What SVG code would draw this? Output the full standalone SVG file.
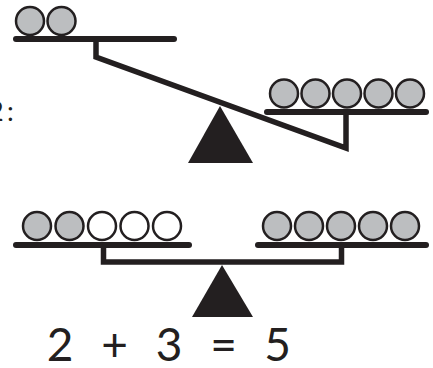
<svg xmlns="http://www.w3.org/2000/svg" width="433" height="368" viewBox="0 0 433 368">
<style>
.bar{stroke:#231f20;stroke-width:6;stroke-linecap:round;fill:none}
.beam{stroke:#231f20;stroke-width:5.5;fill:none;stroke-linejoin:miter;stroke-miterlimit:10}
.ball{fill:#bcbec0;stroke:#231f20;stroke-width:2.5}
.empty{fill:#ffffff;stroke:#231f20;stroke-width:2.5}
.fulcrum{fill:#231f20}
.t{font-family:"Lato","Liberation Sans",sans-serif;font-weight:400;fill:#231f20}
.eq{font-size:46px;text-anchor:middle}
</style>
<g id="label-left">
<text class="t" font-size="27" x="-12" y="121">2<tspan x="7">:</tspan></text>
</g>
<g id="connectors">
<polyline class="beam" points="96,39 96,57 346,148 346,112"/>
<polyline class="beam" points="103.5,245 103.5,262 341.5,262 341.5,245"/>
</g>
<g id="top-left-pan">
<line class="bar" x1="16" y1="39" x2="174" y2="39"/>
<circle class="ball" cx="30" cy="21" r="14"/>
<circle class="ball" cx="61.5" cy="21" r="14"/>
</g>
<g id="top-right-pan">
<line class="bar" x1="267" y1="112" x2="426" y2="112"/>
<circle class="ball" cx="284" cy="93.5" r="14"/>
<circle class="ball" cx="315.5" cy="93.5" r="14"/>
<circle class="ball" cx="347" cy="93.5" r="14"/>
<circle class="ball" cx="378.5" cy="93.5" r="14"/>
<circle class="ball" cx="410" cy="93.5" r="14"/>
</g>
<g id="top-fulcrum">
<polygon class="fulcrum" points="220,106 188,163 253,163"/>
</g>
<g id="bottom-left-pan">
<line class="bar" x1="16" y1="245" x2="189" y2="245"/>
<circle class="ball" cx="37" cy="226" r="14"/>
<circle class="ball" cx="69.5" cy="226" r="14"/>
<circle class="empty" cx="102" cy="226" r="14"/>
<circle class="empty" cx="134.5" cy="226" r="14"/>
<circle class="empty" cx="167" cy="226" r="14"/>
</g>
<g id="bottom-right-pan">
<line class="bar" x1="258" y1="245" x2="426" y2="245"/>
<circle class="ball" cx="277" cy="226" r="14"/>
<circle class="ball" cx="309" cy="226" r="14"/>
<circle class="ball" cx="341" cy="226" r="14"/>
<circle class="ball" cx="373" cy="226" r="14"/>
<circle class="ball" cx="405" cy="226" r="14"/>
</g>
<g id="bottom-fulcrum">
<polygon class="fulcrum" points="222,265 192,317 253,317"/>
</g>
<g id="equation">
<text class="t eq" x="60" y="361">2</text>
<text class="t eq" x="114.5" y="361">+</text>
<text class="t eq" x="169" y="361">3</text>
<text class="t eq" x="223.5" y="361">=</text>
<text class="t eq" x="277.5" y="361">5</text>
</g>
</svg>
